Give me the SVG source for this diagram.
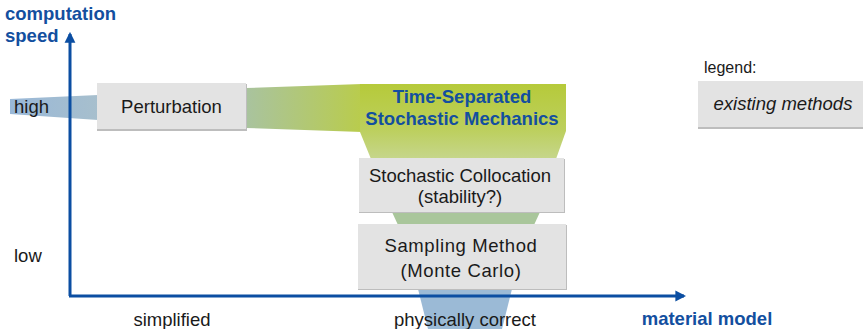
<svg xmlns="http://www.w3.org/2000/svg" width="863" height="329" viewBox="0 0 863 329">
<defs>
<style>
.t{font-family:"Liberation Sans",Arial,sans-serif;font-size:18.5px;fill:#1a1a1a}
.c{text-anchor:middle}
.b{font-weight:bold;fill:#134f9f}
.w{letter-spacing:0.6px}
.box{fill:#e3e3e3}
.sh{fill:#bdbdbd}
.ax{stroke:#0b4ea2;stroke-width:3;fill:none}
</style>
<linearGradient id="gBlueL" x1="0" y1="0" x2="1" y2="0">
<stop offset="0" stop-color="#99b8d8"/><stop offset="1" stop-color="#a7bfcd"/>
</linearGradient>
<linearGradient id="gBand" x1="0" y1="0" x2="1" y2="0">
<stop offset="0" stop-color="#a9c39f"/><stop offset="1" stop-color="#b9cc4c"/>
</linearGradient>
<linearGradient id="gMain" x1="0" y1="0" x2="0" y2="1">
<stop offset="0" stop-color="#b6ca3a"/><stop offset="0.6" stop-color="#bccf5c"/><stop offset="1" stop-color="#c6d68c"/>
</linearGradient>
<marker id="ah" viewBox="0 0 10 10" refX="8" refY="5" markerWidth="3.6" markerHeight="3.8" orient="auto" markerUnits="strokeWidth">
<path d="M0,0 L10,5 L0,10 Z" fill="#0b4ea2"/>
</marker>
</defs>
<rect width="863" height="329" fill="#ffffff"/>

<g id="bands">
<path d="M10,99 L98,95 L98,120 L10,114 Z" fill="url(#gBlueL)"/>
<path d="M246,88 L362,84 L362,132 L246,128 Z" fill="url(#gBand)"/>
<path d="M360,84 H566 V131 L556,159 H371 L360,132 Z" fill="url(#gMain)"/>
<path d="M392,212 H540 L534,225 H398 Z" fill="#a9c69b"/>
<path d="M418,289 H512 L502,329 H428 Z" fill="#9bbad6"/>
</g>

<g id="connectors">
<path class="ax" d="M70,296 V34" marker-end="url(#ah)"/>
<path class="ax" d="M69,296 H684" marker-end="url(#ah)"/>
</g>

<g id="axis-labels">
<text class="t b" x="5" y="20">computation</text>
<text class="t b" x="5" y="42">speed</text>
<text class="t" x="14" y="113">high</text>
<text class="t" x="14" y="262">low</text>
<text class="t c" x="172" y="326">simplified</text>
<text class="t c" x="465" y="326">physically correct</text>
<text class="t b c" x="707" y="325">material model</text>
</g>

<g id="perturbation">
<rect class="sh" x="97" y="84" width="150" height="47"/>
<rect class="box" x="97" y="83" width="149" height="46"/>
<text class="t c" x="171.5" y="113">Perturbation</text>
</g>

<g id="tssm">
<text class="t b c" x="462" y="103">Time-Separated</text>
<text class="t b c" x="462" y="125">Stochastic Mechanics</text>
</g>

<g id="collocation">
<rect class="sh" x="359" y="159" width="206" height="54"/>
<rect class="box" x="359" y="158" width="205" height="54"/>
<text class="t c" x="460" y="182">Stochastic Collocation</text>
<text class="t c" x="460" y="203">(stability?)</text>
</g>

<g id="sampling">
<rect class="sh" x="358" y="225" width="209" height="65"/>
<rect class="box" x="358" y="224" width="208" height="65"/>
<text class="t c w" x="461" y="252">Sampling Method</text>
<text class="t c w" x="461" y="277">(Monte Carlo)</text>
</g>

<g id="legend">
<text class="t" x="704" y="73" style="font-size:16px">legend:</text>
<rect class="sh" x="698" y="82" width="166" height="47"/>
<rect class="box" x="698" y="81" width="166" height="46"/>
<text class="t c" x="783" y="110" style="font-style:italic">existing methods</text>
</g>
</svg>
